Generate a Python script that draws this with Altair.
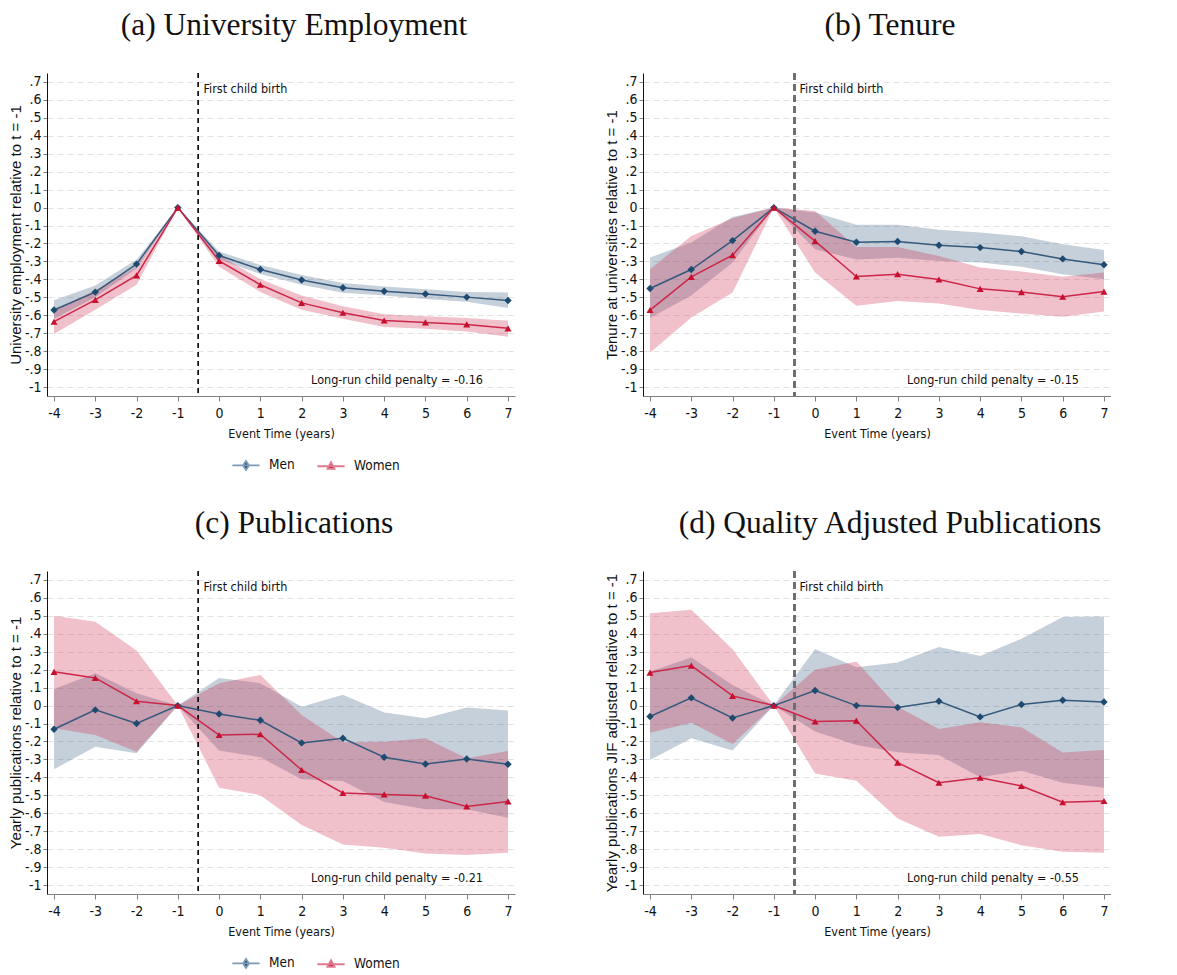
import altair as alt
import pandas as pd

# ---------------- data ----------------
event_time = [-4, -3, -2, -1, 0, 1, 2, 3, 4, 5, 6, 7]
sexes = ["Men", "Women"]

panel_titles = ["(a) University Employment", "(b) Tenure",
                "(c) Publications", "(d) Quality Adjusted Publications"]
y_titles = ["University employment relative to t = -1",
            "Tenure at universities relative to t = -1",
            "Yearly publications relative to t = -1",
            "Yearly publications JIF adjusted relative to t = -1"]
penalties = ["Long-run child penalty = -0.16", "Long-run child penalty = -0.15",
             "Long-run child penalty = -0.21", "Long-run child penalty = -0.55"]
event_label = "First child birth"
x_title = "Event Time (years)"

x_ticks = [-4, -3, -2, -1, 0, 1, 2, 3, 4, 5, 6, 7]
y_ticks = [-1.0, -0.9, -0.8, -0.7, -0.6, -0.5, -0.4, -0.3, -0.2, -0.1,
           0.0, 0.1, 0.2, 0.3, 0.4, 0.5, 0.6, 0.7]

# (a) University employment
a_men = [-0.571, -0.471, -0.315, 0, -0.267, -0.345, -0.404, -0.447, -0.466, -0.482, -0.499, -0.518]
a_men_lo = [-0.62, -0.50, -0.34, 0, -0.29, -0.37, -0.43, -0.475, -0.49, -0.51, -0.525, -0.56]
a_men_hi = [-0.516, -0.434, -0.29, 0, -0.245, -0.32, -0.375, -0.42, -0.44, -0.455, -0.47, -0.473]
a_women = [-0.636, -0.514, -0.378, 0, -0.297, -0.430, -0.531, -0.586, -0.629, -0.640, -0.651, -0.673]
a_women_lo = [-0.705, -0.57, -0.43, 0, -0.33, -0.47, -0.57, -0.62, -0.665, -0.675, -0.69, -0.72]
a_women_hi = [-0.57, -0.46, -0.33, 0, -0.265, -0.40, -0.49, -0.55, -0.595, -0.605, -0.615, -0.63]

# (b) Tenure
b_men = [-0.451, -0.345, -0.184, 0, -0.132, -0.193, -0.189, -0.210, -0.223, -0.245, -0.286, -0.319]
b_men_lo = [-0.616, -0.49, -0.306, 0, -0.232, -0.29, -0.28, -0.297, -0.306, -0.33, -0.371, -0.399]
b_men_hi = [-0.278, -0.195, -0.052, 0, -0.028, -0.096, -0.096, -0.124, -0.139, -0.16, -0.204, -0.237]
b_women = [-0.571, -0.386, -0.265, 0, -0.187, -0.384, -0.371, -0.401, -0.453, -0.471, -0.497, -0.468]
b_women_lo = [-0.809, -0.612, -0.473, 0, -0.362, -0.547, -0.52, -0.534, -0.571, -0.59, -0.608, -0.579]
b_women_hi = [-0.343, -0.158, -0.059, 0, -0.019, -0.22, -0.22, -0.27, -0.334, -0.356, -0.386, -0.362]

# (c) Publications
c_men = [-0.132, -0.024, -0.100, 0, -0.047, -0.082, -0.208, -0.182, -0.288, -0.326, -0.298, -0.327]
c_men_lo = [-0.355, -0.229, -0.266, 0, -0.251, -0.288, -0.411, -0.42, -0.538, -0.578, -0.578, -0.625]
c_men_hi = [0.093, 0.18, 0.069, 0, 0.154, 0.125, -0.006, 0.06, -0.039, -0.071, -0.011, -0.028]
c_women = [0.188, 0.154, 0.024, 0, -0.164, -0.160, -0.359, -0.487, -0.495, -0.502, -0.562, -0.534]
c_women_lo = [-0.126, -0.164, -0.257, 0, -0.458, -0.499, -0.666, -0.774, -0.792, -0.824, -0.833, -0.820]
c_women_hi = [0.50, 0.467, 0.307, 0, 0.125, 0.171, -0.052, -0.205, -0.201, -0.182, -0.294, -0.253]

# (d) Quality adjusted publications
d_men = [-0.061, 0.043, -0.069, 0, 0.084, 0.0, -0.011, 0.024, -0.063, 0.006, 0.030, 0.020]
d_men_lo = [-0.303, -0.182, -0.251, 0, -0.145, -0.219, -0.26, -0.275, -0.40, -0.363, -0.43, -0.458]
d_men_hi = [0.19, 0.268, 0.115, 0, 0.316, 0.214, 0.24, 0.326, 0.277, 0.372, 0.493, 0.497]
d_women = [0.184, 0.223, 0.054, 0, -0.089, -0.084, -0.318, -0.430, -0.402, -0.448, -0.539, -0.532]
d_women_lo = [-0.151, -0.095, -0.214, 0, -0.378, -0.419, -0.629, -0.731, -0.716, -0.778, -0.815, -0.820]
d_women_hi = [0.515, 0.534, 0.314, 0, 0.199, 0.246, -0.006, -0.13, -0.093, -0.121, -0.262, -0.247]

series = [
    (a_men, a_men_lo, a_men_hi, a_women, a_women_lo, a_women_hi),
    (b_men, b_men_lo, b_men_hi, b_women, b_women_lo, b_women_hi),
    (c_men, c_men_lo, c_men_hi, c_women, c_women_lo, c_women_hi),
    (d_men, d_men_lo, d_men_hi, d_women, d_women_lo, d_women_hi),
]

# ---------------- style ----------------
NAVY = "#1f4a70"
NAVY_LINE = "#35597c"
NAVY_LEG = "#7d9bb6"
RED = "#c8102e"
RED_LINE = "#cc2749"
RED_LEG = "#e07a90"
NARROW = "DejaVu Sans Condensed, Liberation Sans Narrow, Liberation Sans, sans-serif"
SANS = "Liberation Sans, Arial, sans-serif"
SERIF = "Liberation Serif, DejaVu Serif, serif"

W, H = 468, 323
MEN_PATH = "M-1,0L1,0M0,-0.33L0.22,0L0,0.33L-0.22,0Z"
WOMEN_PATH = "M-1,0L1,0M0,-0.3L0.26,0.2L-0.26,0.2Z"

Y_LABEL_EXPR = ("(datum.value < 0 ? '-' : '') + "
                "replace(format(abs(datum.value), '.1~f'), '0.', '.')")
X_LABEL_EXPR = "(datum.value < 0 ? '-' : '') + format(abs(datum.value), 'd')"


def panel(i):
    men, men_lo, men_hi, women, women_lo, women_hi = series[i]
    rows = []
    for k, t in enumerate(event_time):
        rows.append({"t": t, "sex": "Men", "est": men[k], "lo": men_lo[k], "hi": men_hi[k]})
        rows.append({"t": t, "sex": "Women", "est": women[k], "lo": women_lo[k], "hi": women_hi[k]})
    df = pd.DataFrame(rows)

    right_col = i in (1, 3)
    rule_color = "#6f6f6f" if right_col else "#111111"
    rule_width = 1.8 if right_col else 1
    rule_dash = [7, 4] if right_col else [5, 4]

    xenc = alt.X("t:Q",
                 scale=alt.Scale(domain=[-4.17, 7.17], nice=False, zero=False),
                 axis=alt.Axis(values=x_ticks, title=x_title, grid=False,
                               labelExpr=X_LABEL_EXPR,
                               labelFont=NARROW, labelFontSize=14,
                               labelColor="#111", titleFont=NARROW, titleFontSize=12.5,
                               titleFontWeight="normal", titleColor="#111",
                               domainColor="#808080", tickColor="#808080",
                               tickSize=5, labelPadding=5, titlePadding=7))
    yscale = alt.Scale(domain=[-1.05, 0.75], nice=False, zero=False)
    yaxis = alt.Axis(values=y_ticks,
                     labelExpr=Y_LABEL_EXPR,
                     title=y_titles[i], grid=True, gridDash=[6, 4],
                     gridColor="#e2e2e2", gridWidth=1,
                     labelFont=NARROW, labelFontSize=14, labelColor="#111",
                     titleFont=SANS, titleFontSize=15, titleFontWeight="normal",
                     titleColor="#111", titlePadding=1,
                     domainColor="#111", tickColor="#808080", tickSize=4,
                     labelPadding=2)

    base = alt.Chart(df)
    men_f = alt.datum.sex == "Men"
    wom_f = alt.datum.sex == "Women"

    band_m = base.transform_filter(men_f).mark_area(color=NAVY, opacity=0.26).encode(
        x=xenc, y=alt.Y("lo:Q", scale=yscale, axis=yaxis), y2="hi:Q")
    band_w = base.transform_filter(wom_f).mark_area(color="#cd2d52", opacity=0.30).encode(
        x=xenc, y=alt.Y("lo:Q", scale=yscale, axis=yaxis), y2="hi:Q")

    vline = alt.Chart(df).mark_rule(color=rule_color, strokeWidth=rule_width,
                                   strokeDash=rule_dash).encode(
        x=alt.datum(-0.5))

    line_m = base.transform_filter(men_f).mark_line(color=NAVY_LINE, strokeWidth=1.5).encode(
        x=xenc, y=alt.Y("est:Q", scale=yscale, axis=yaxis))
    line_w = base.transform_filter(wom_f).mark_line(color=RED_LINE, strokeWidth=1.5).encode(
        x=xenc, y=alt.Y("est:Q", scale=yscale, axis=yaxis))
    pts_m = base.transform_filter(men_f).mark_point(
        shape="diamond", filled=True, fill=NAVY, size=55, opacity=1, strokeWidth=0).encode(
        x=xenc, y=alt.Y("est:Q", scale=yscale, axis=yaxis))
    pts_w = base.transform_filter(wom_f).mark_point(
        shape="triangle-up", filled=True, fill=RED, size=50, opacity=1, strokeWidth=0).encode(
        x=xenc, y=alt.Y("est:Q", scale=yscale, axis=yaxis))

    leg = alt.Legend(title=None, orient="none", direction="horizontal",
                     legendX=184, legendY=377, symbolSize=740, symbolStrokeWidth=1.8,
                     symbolOpacity=1, labelFont=NARROW, labelFontSize=13.5,
                     labelColor="#111", labelOffset=8, columnPadding=18)
    legend_layer = base.mark_point(filled=True, opacity=0).encode(
        x=xenc, y=alt.Y("est:Q", scale=yscale, axis=yaxis),
        fill=alt.Fill("sex:N", scale=alt.Scale(domain=sexes, range=[NAVY, RED]), legend=leg),
        stroke=alt.Stroke("sex:N", scale=alt.Scale(domain=sexes, range=[NAVY_LEG, RED_LEG]), legend=leg),
        shape=alt.Shape("sex:N", scale=alt.Scale(domain=sexes, range=[MEN_PATH, WOMEN_PATH]), legend=leg),
    )

    txt_birth = alt.Chart(df).transform_aggregate(n="count()").mark_text(
        align="left", baseline="middle", dx=5, font=NARROW, fontSize=12.5, color="#111").encode(
        x=alt.datum(-0.5), y=alt.value(16), text=alt.value(event_label))
    txt_pen = alt.Chart(df).transform_aggregate(n="count()").mark_text(
        align="right", baseline="middle", font=NARROW, fontSize=12.5, color="#111").encode(
        x=alt.value(W - 32), y=alt.value(307), text=alt.value(penalties[i]))

    return alt.layer(band_m, band_w, vline, line_m, line_w, pts_m, pts_w,
                     legend_layer, txt_birth, txt_pen).properties(
        width=W, height=H,
        title=alt.TitleParams(panel_titles[i], font=SERIF, fontSize=31.5,
                              fontWeight="normal", color="#111", anchor="middle",
                              dx=13, offset=31),
    )


row1 = alt.hconcat(panel(0), panel(1), spacing=89)
row2 = alt.hconcat(panel(2), panel(3), spacing=89)
chart = alt.vconcat(row1, row2, spacing=33).resolve_legend(
    fill="independent", stroke="independent", shape="independent"
).resolve_scale(fill="independent", stroke="independent", shape="independent").configure(
    padding={"top": 1, "left": 0, "right": 0, "bottom": 0}
).configure_view(stroke=None)

chart.save("out.html", embed_options={"renderer": "svg", "actions": False})
